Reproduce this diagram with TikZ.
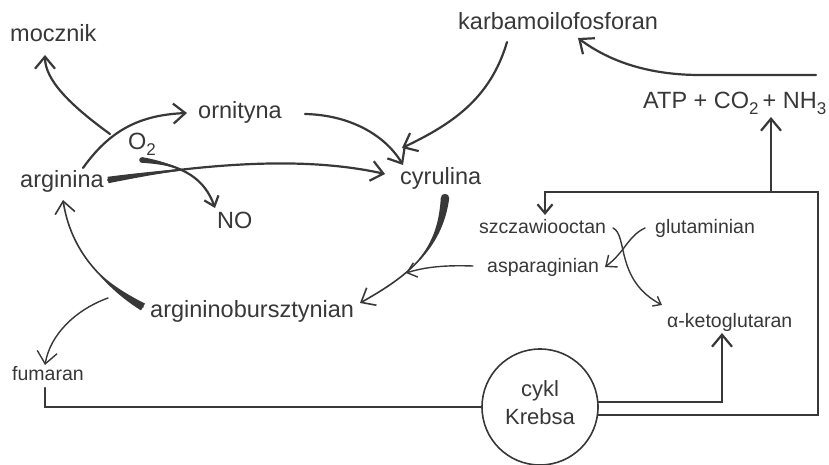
\documentclass[tikz,border=0pt]{standalone}
\usepackage{fontspec}
\setmainfont{Liberation Sans}
\usetikzlibrary{arrows.meta}
\definecolor{ink}{HTML}{383838}
\newcommand{\lowsub}[1]{\raisebox{-5.5pt}{\fontsize{17}{17}\selectfont #1}}
\begin{document}
\begin{tikzpicture}[x=1pt,y=-1pt,
  big/.style={anchor=base west,inner sep=0pt,text=ink,font=\fontsize{23.5}{28}\selectfont},
  small/.style={anchor=base west,inner sep=0pt,text=ink,font=\fontsize{19.5}{23}\selectfont},
  conn/.style={draw=ink,line width=2.2pt,line cap=round},
  midc/.style={draw=ink,line width=1.6pt,line cap=round},
  thinc/.style={draw=ink,line width=1.4pt,line cap=round},
  bigarr/.style={-{Straight Barb[length=12pt,width=20pt]}},
  midarr/.style={-{Straight Barb[length=9pt,width=15pt]}},
  smallarr/.style={-{Straight Barb[length=7pt,width=11pt]}},
  taper/.style={fill=ink,draw=none}]
\useasboundingbox[fill=white] (0,0) rectangle (829,465);

% texts
\node[big] (mocz) at (10,42) {mocznik};
\node[big] (orn) at (198,119) {ornityna};
\node[big] (arg) at (20,187) {arginina};
\node[big] (o2) at (128,150) {O\lowsub{2}};
\node[big] (no) at (217,228) {NO};
\node[big] (cyr) at (400,185) {cyrulina};
\node[big] (karb) at (458,30) {karbamoilofosforan};
\node[big] (atp) at (643,109) {ATP + CO\lowsub{2}\,+ NH\lowsub{3}};
\node[big] (argbur) at (150,317) {argininobursztynian};
\node[small] (fum) at (12,380) {fumaran};
\node[small] (szcz) at (479,233) {szczawiooctan};
\node[small] (glut) at (655,233) {glutaminian};
\node[small] (asp) at (487,272) {asparaginian};
\node[small] (akg) at (667,327) {α-ketoglutaran};
\node[circle,draw=ink,line width=1.6pt,minimum size=116pt,inner sep=0pt] (krebs) at (540,407) {};
\node[text=ink,align=center,font=\fontsize{22}{28}\selectfont] (krebst) at (540,403) {cykl\\Krebsa};

% connector end points
\coordinate (argA) at (83,168);
\coordinate (ornW) at (187,113);
\coordinate (moczB) at (110,134);
\coordinate (moczS) at (45,55);
\coordinate (argE) at (108,180);
\coordinate (cyrW) at (385,174);
\coordinate (o2E) at (142,160);
\coordinate (noN) at (215,208);
\coordinate (ornE) at (305,114);
\coordinate (cyrN1) at (403,165);
\coordinate (karbS) at (507,42);
\coordinate (cyrN2) at (402,148);
\coordinate (atpL) at (816,75);
\coordinate (karbE) at (578,38);
\coordinate (cyrS) at (445,198);
\coordinate (argburE) at (360,303);
\coordinate (aspW) at (473,266);
\coordinate (cyrArc) at (406,273);
\coordinate (argburW) at (143,307);
\coordinate (argS) at (63,200);
\coordinate (argburF) at (108,298);
\coordinate (fumN) at (45,365);
\coordinate (szczE) at (613,228);
\coordinate (akgW) at (662,305);
\coordinate (glutW) at (645,228);
\coordinate (aspE) at (605,267);
\coordinate (fumS) at (45,388);
\coordinate (akgS) at (722,333);
\coordinate (loopC) at (818,192);
\coordinate (szczN) at (545,215);
\coordinate (atpJ) at (771,192);
\coordinate (atpS) at (771,117);

% connectors
\draw[conn,bigarr] (argA) .. controls (110,130) and (140,115) .. (ornW);
\draw[conn,bigarr] (moczB) .. controls (70,105) and (45,80) .. (moczS);
\draw[conn,bigarr] (argE) .. controls (200,165) and (300,155) .. (cyrW);
\fill[taper] (108.5,183.2) .. controls (131.4,178.7) and (154.7,174.2) .. (178.2,170.9)
  -- (178,169.2) .. controls (154.3,171.4) and (130.6,173.8) .. (107.5,176.8) -- cycle;
\draw[conn,midarr] (o2E) .. controls (185,165) and (205,180) .. (noN);
\fill[taper] (141.7,162.8) .. controls (154.6,163.6) and (165.3,165.1) .. (174.6,168)
  -- (175,166.6) .. controls (166.1,162.7) and (155.2,159.4) .. (142.3,157.2) -- cycle;
\fill[taper] (142,160) circle (2.8);
\draw[conn,bigarr] (ornE) .. controls (350,115) and (385,135) .. (cyrN1);
\draw[conn,bigarr] (karbS) .. controls (490,100) and (450,125) .. (cyrN2);
\draw[conn,bigarr] (atpL) -- (700,75) .. controls (650,75) and (610,62) .. (karbE);
\draw[midc,bigarr] (cyrS) .. controls (440,250) and (410,275) .. (argburE);
\fill[taper] (440.8,197.6) .. controls (439.3,223.7) and (432.5,242.3) .. (418.9,259)
  -- (419.9,260) .. controls (435,244.2) and (445.7,224.3) .. (449.2,198.4) -- cycle;
\fill[taper] (445,198) circle (4.2);
\draw[thinc,midarr] (aspW) .. controls (445,265) and (425,267) .. (cyrArc);
\draw[midc,bigarr] (argburW) .. controls (95,280) and (70,245) .. (argS);
\fill[taper] (145,303.6) .. controls (127.8,294.9) and (113.4,285.9) .. (101.3,275.1)
  -- (100.3,276.1) .. controls (111,288.3) and (124.6,300.2) .. (141,310.4) -- cycle;
\draw[thinc,bigarr] (argburF) .. controls (75,310) and (50,335) .. (fumN);
\draw[thinc,smallarr] (szczE) .. controls (628,235) and (615,280) .. (akgW);
\draw[thinc,midarr] (glutW) .. controls (628,236) and (625,252) .. (aspE);

\draw[conn] (fumS) |- (krebs.west);
\draw[conn,bigarr] (krebs.5) -| (akgS);
\draw[conn,midarr] (krebs.-8) -| (loopC) -| (szczN);
\draw[conn,bigarr] (atpJ) -- (atpS);
\end{tikzpicture}
\end{document}
